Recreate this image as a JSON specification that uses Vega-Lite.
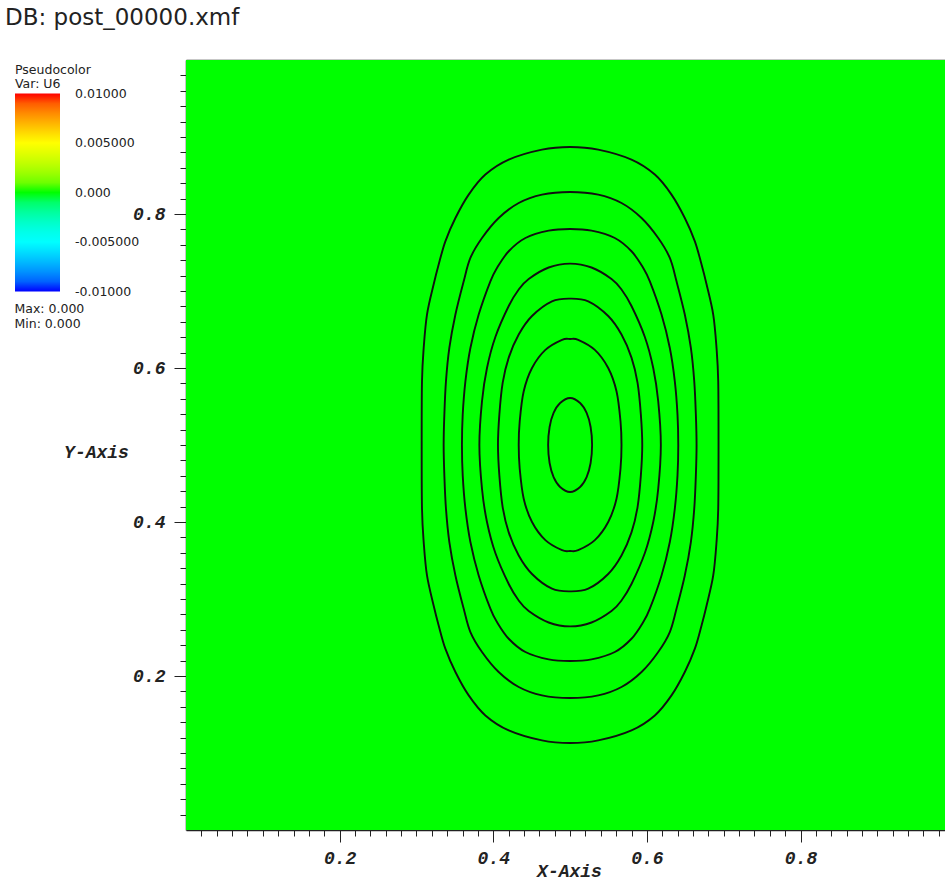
{
  "$schema": "https://vega.github.io/schema/vega-lite/v6.json",
  "width": 759,
  "height": 770,
  "autosize": {"type": "none"},
  "padding": {"left": 186, "top": 60, "right": 0, "bottom": 51},
  "background": "white",
  "title": {"text": "DB: post_00000.xmf", "anchor": "start", "frame": "group", "dx": -181, "offset": 30, "font": "DejaVu Sans", "fontSize": 23, "fontWeight": "normal", "color": "#222"},
  "config": {"view": {"stroke": null}, "axis": {"grid": false}},
  "datasets": {
    "contours": [
      {"c":1,"o":0,"x":0.5,"y":0.887},{"c":1,"o":1,"x":0.4634,"y":0.8836},{"c":1,"o":2,"x":0.4201,"y":0.8706},{"c":1,"o":3,"x":0.3897,"y":0.8512},{"c":1,"o":4,"x":0.368,"y":0.8252},{"c":1,"o":5,"x":0.3507,"y":0.7948},{"c":1,"o":6,"x":0.3376,"y":0.7645},{"c":1,"o":7,"x":0.3289,"y":0.7343},{"c":1,"o":8,"x":0.3224,"y":0.7087},{"c":1,"o":9,"x":0.3137,"y":0.6694},{"c":1,"o":10,"x":0.3094,"y":0.626},{"c":1,"o":11,"x":0.3072,"y":0.5827},{"c":1,"o":12,"x":0.3068,"y":0.5},{"c":1,"o":13,"x":0.3072,"y":0.4173},{"c":1,"o":14,"x":0.3094,"y":0.374},{"c":1,"o":15,"x":0.3137,"y":0.3306},{"c":1,"o":16,"x":0.3224,"y":0.2913},{"c":1,"o":17,"x":0.3289,"y":0.2657},{"c":1,"o":18,"x":0.3376,"y":0.2355},{"c":1,"o":19,"x":0.3507,"y":0.2052},{"c":1,"o":20,"x":0.368,"y":0.1748},{"c":1,"o":21,"x":0.3897,"y":0.1488},{"c":1,"o":22,"x":0.4201,"y":0.1294},{"c":1,"o":23,"x":0.4634,"y":0.1164},{"c":1,"o":24,"x":0.5,"y":0.113},{"c":1,"o":25,"x":0.5366,"y":0.1164},{"c":1,"o":26,"x":0.5799,"y":0.1294},{"c":1,"o":27,"x":0.6103,"y":0.1488},{"c":1,"o":28,"x":0.632,"y":0.1748},{"c":1,"o":29,"x":0.6493,"y":0.2052},{"c":1,"o":30,"x":0.6624,"y":0.2355},{"c":1,"o":31,"x":0.6711,"y":0.2657},{"c":1,"o":32,"x":0.6776,"y":0.2913},{"c":1,"o":33,"x":0.6863,"y":0.3306},{"c":1,"o":34,"x":0.6906,"y":0.374},{"c":1,"o":35,"x":0.6928,"y":0.4173},{"c":1,"o":36,"x":0.6932,"y":0.5},{"c":1,"o":37,"x":0.6928,"y":0.5827},{"c":1,"o":38,"x":0.6906,"y":0.626},{"c":1,"o":39,"x":0.6863,"y":0.6694},{"c":1,"o":40,"x":0.6776,"y":0.7087},{"c":1,"o":41,"x":0.6711,"y":0.7343},{"c":1,"o":42,"x":0.6624,"y":0.7645},{"c":1,"o":43,"x":0.6493,"y":0.7948},{"c":1,"o":44,"x":0.632,"y":0.8252},{"c":1,"o":45,"x":0.6103,"y":0.8512},{"c":1,"o":46,"x":0.5799,"y":0.8706},{"c":1,"o":47,"x":0.5366,"y":0.8836},
      {"c":2,"o":0,"x":0.5,"y":0.8286},{"c":2,"o":1,"x":0.4634,"y":0.8252},{"c":2,"o":2,"x":0.4331,"y":0.8143},{"c":2,"o":3,"x":0.407,"y":0.7948},{"c":2,"o":4,"x":0.3853,"y":0.7688},{"c":2,"o":5,"x":0.3702,"y":0.7429},{"c":2,"o":6,"x":0.3615,"y":0.7126},{"c":2,"o":7,"x":0.3507,"y":0.6694},{"c":2,"o":8,"x":0.3428,"y":0.626},{"c":2,"o":9,"x":0.3384,"y":0.5827},{"c":2,"o":10,"x":0.3363,"y":0.5395},{"c":2,"o":11,"x":0.3354,"y":0.5},{"c":2,"o":12,"x":0.3363,"y":0.4605},{"c":2,"o":13,"x":0.3384,"y":0.4173},{"c":2,"o":14,"x":0.3428,"y":0.374},{"c":2,"o":15,"x":0.3507,"y":0.3306},{"c":2,"o":16,"x":0.3615,"y":0.2874},{"c":2,"o":17,"x":0.3702,"y":0.2571},{"c":2,"o":18,"x":0.3853,"y":0.2312},{"c":2,"o":19,"x":0.407,"y":0.2052},{"c":2,"o":20,"x":0.4331,"y":0.1857},{"c":2,"o":21,"x":0.4634,"y":0.1748},{"c":2,"o":22,"x":0.5,"y":0.1714},{"c":2,"o":23,"x":0.5366,"y":0.1748},{"c":2,"o":24,"x":0.5669,"y":0.1857},{"c":2,"o":25,"x":0.593,"y":0.2052},{"c":2,"o":26,"x":0.6147,"y":0.2312},{"c":2,"o":27,"x":0.6298,"y":0.2571},{"c":2,"o":28,"x":0.6385,"y":0.2874},{"c":2,"o":29,"x":0.6493,"y":0.3306},{"c":2,"o":30,"x":0.6572,"y":0.374},{"c":2,"o":31,"x":0.6616,"y":0.4173},{"c":2,"o":32,"x":0.6637,"y":0.4605},{"c":2,"o":33,"x":0.6646,"y":0.5},{"c":2,"o":34,"x":0.6637,"y":0.5395},{"c":2,"o":35,"x":0.6616,"y":0.5827},{"c":2,"o":36,"x":0.6572,"y":0.626},{"c":2,"o":37,"x":0.6493,"y":0.6694},{"c":2,"o":38,"x":0.6385,"y":0.7126},{"c":2,"o":39,"x":0.6298,"y":0.7429},{"c":2,"o":40,"x":0.6147,"y":0.7688},{"c":2,"o":41,"x":0.593,"y":0.7948},{"c":2,"o":42,"x":0.5669,"y":0.8143},{"c":2,"o":43,"x":0.5366,"y":0.8252},
      {"c":3,"o":0,"x":0.5,"y":0.7805},{"c":3,"o":1,"x":0.4721,"y":0.7784},{"c":3,"o":2,"x":0.4418,"y":0.7688},{"c":3,"o":3,"x":0.4201,"y":0.7516},{"c":3,"o":4,"x":0.4048,"y":0.7299},{"c":3,"o":5,"x":0.3962,"y":0.7126},{"c":3,"o":6,"x":0.381,"y":0.6694},{"c":3,"o":7,"x":0.3702,"y":0.626},{"c":3,"o":8,"x":0.3637,"y":0.5827},{"c":3,"o":9,"x":0.3602,"y":0.5395},{"c":3,"o":10,"x":0.3592,"y":0.5},{"c":3,"o":11,"x":0.3602,"y":0.4605},{"c":3,"o":12,"x":0.3637,"y":0.4173},{"c":3,"o":13,"x":0.3702,"y":0.374},{"c":3,"o":14,"x":0.381,"y":0.3306},{"c":3,"o":15,"x":0.3962,"y":0.2874},{"c":3,"o":16,"x":0.4048,"y":0.2701},{"c":3,"o":17,"x":0.4201,"y":0.2484},{"c":3,"o":18,"x":0.4418,"y":0.2312},{"c":3,"o":19,"x":0.4721,"y":0.2216},{"c":3,"o":20,"x":0.5,"y":0.2195},{"c":3,"o":21,"x":0.5279,"y":0.2216},{"c":3,"o":22,"x":0.5582,"y":0.2312},{"c":3,"o":23,"x":0.5799,"y":0.2484},{"c":3,"o":24,"x":0.5952,"y":0.2701},{"c":3,"o":25,"x":0.6038,"y":0.2874},{"c":3,"o":26,"x":0.619,"y":0.3306},{"c":3,"o":27,"x":0.6298,"y":0.374},{"c":3,"o":28,"x":0.6363,"y":0.4173},{"c":3,"o":29,"x":0.6398,"y":0.4605},{"c":3,"o":30,"x":0.6408,"y":0.5},{"c":3,"o":31,"x":0.6398,"y":0.5395},{"c":3,"o":32,"x":0.6363,"y":0.5827},{"c":3,"o":33,"x":0.6298,"y":0.626},{"c":3,"o":34,"x":0.619,"y":0.6694},{"c":3,"o":35,"x":0.6038,"y":0.7126},{"c":3,"o":36,"x":0.5952,"y":0.7299},{"c":3,"o":37,"x":0.5799,"y":0.7516},{"c":3,"o":38,"x":0.5582,"y":0.7688},{"c":3,"o":39,"x":0.5279,"y":0.7784},
      {"c":4,"o":0,"x":0.5,"y":0.7356},{"c":4,"o":1,"x":0.4721,"y":0.7305},{"c":4,"o":2,"x":0.4461,"y":0.7156},{"c":4,"o":3,"x":0.4331,"y":0.7019},{"c":4,"o":4,"x":0.4201,"y":0.6805},{"c":4,"o":5,"x":0.4027,"y":0.6403},{"c":4,"o":6,"x":0.3918,"y":0.6},{"c":4,"o":7,"x":0.3853,"y":0.5568},{"c":4,"o":8,"x":0.3819,"y":0.5},{"c":4,"o":9,"x":0.3853,"y":0.4432},{"c":4,"o":10,"x":0.3918,"y":0.4},{"c":4,"o":11,"x":0.4027,"y":0.3597},{"c":4,"o":12,"x":0.4201,"y":0.3195},{"c":4,"o":13,"x":0.4331,"y":0.2981},{"c":4,"o":14,"x":0.4461,"y":0.2844},{"c":4,"o":15,"x":0.4721,"y":0.2695},{"c":4,"o":16,"x":0.5,"y":0.2644},{"c":4,"o":17,"x":0.5279,"y":0.2695},{"c":4,"o":18,"x":0.5539,"y":0.2844},{"c":4,"o":19,"x":0.5669,"y":0.2981},{"c":4,"o":20,"x":0.5799,"y":0.3195},{"c":4,"o":21,"x":0.5973,"y":0.3597},{"c":4,"o":22,"x":0.6082,"y":0.4},{"c":4,"o":23,"x":0.6147,"y":0.4432},{"c":4,"o":24,"x":0.6181,"y":0.5},{"c":4,"o":25,"x":0.6147,"y":0.5568},{"c":4,"o":26,"x":0.6082,"y":0.6},{"c":4,"o":27,"x":0.5973,"y":0.6403},{"c":4,"o":28,"x":0.5799,"y":0.6805},{"c":4,"o":29,"x":0.5669,"y":0.7019},{"c":4,"o":30,"x":0.5539,"y":0.7156},{"c":4,"o":31,"x":0.5279,"y":0.7305},
      {"c":5,"o":0,"x":0.5,"y":0.6901},{"c":5,"o":1,"x":0.4764,"y":0.6866},{"c":5,"o":2,"x":0.4504,"y":0.6675},{"c":5,"o":3,"x":0.4331,"y":0.6435},{"c":5,"o":4,"x":0.4201,"y":0.6135},{"c":5,"o":5,"x":0.4122,"y":0.5806},{"c":5,"o":6,"x":0.4079,"y":0.5395},{"c":5,"o":7,"x":0.4061,"y":0.5},{"c":5,"o":8,"x":0.4079,"y":0.4605},{"c":5,"o":9,"x":0.4122,"y":0.4194},{"c":5,"o":10,"x":0.4201,"y":0.3865},{"c":5,"o":11,"x":0.4331,"y":0.3565},{"c":5,"o":12,"x":0.4504,"y":0.3325},{"c":5,"o":13,"x":0.4764,"y":0.3134},{"c":5,"o":14,"x":0.5,"y":0.3099},{"c":5,"o":15,"x":0.5236,"y":0.3134},{"c":5,"o":16,"x":0.5496,"y":0.3325},{"c":5,"o":17,"x":0.5669,"y":0.3565},{"c":5,"o":18,"x":0.5799,"y":0.3865},{"c":5,"o":19,"x":0.5878,"y":0.4194},{"c":5,"o":20,"x":0.5921,"y":0.4605},{"c":5,"o":21,"x":0.5939,"y":0.5},{"c":5,"o":22,"x":0.5921,"y":0.5395},{"c":5,"o":23,"x":0.5878,"y":0.5806},{"c":5,"o":24,"x":0.5799,"y":0.6135},{"c":5,"o":25,"x":0.5669,"y":0.6435},{"c":5,"o":26,"x":0.5496,"y":0.6675},{"c":5,"o":27,"x":0.5236,"y":0.6866},
      {"c":6,"o":0,"x":0.5,"y":0.6377},{"c":6,"o":1,"x":0.4895,"y":0.6366},{"c":6,"o":2,"x":0.4678,"y":0.6235},{"c":6,"o":3,"x":0.4504,"y":0.6},{"c":6,"o":4,"x":0.4396,"y":0.5697},{"c":6,"o":5,"x":0.4344,"y":0.5308},{"c":6,"o":6,"x":0.4331,"y":0.5},{"c":6,"o":7,"x":0.4344,"y":0.4692},{"c":6,"o":8,"x":0.4396,"y":0.4303},{"c":6,"o":9,"x":0.4504,"y":0.4},{"c":6,"o":10,"x":0.4678,"y":0.3765},{"c":6,"o":11,"x":0.4895,"y":0.3634},{"c":6,"o":12,"x":0.5,"y":0.3623},{"c":6,"o":13,"x":0.5105,"y":0.3634},{"c":6,"o":14,"x":0.5322,"y":0.3765},{"c":6,"o":15,"x":0.5496,"y":0.4},{"c":6,"o":16,"x":0.5604,"y":0.4303},{"c":6,"o":17,"x":0.5656,"y":0.4692},{"c":6,"o":18,"x":0.5669,"y":0.5},{"c":6,"o":19,"x":0.5656,"y":0.5308},{"c":6,"o":20,"x":0.5604,"y":0.5697},{"c":6,"o":21,"x":0.5496,"y":0.6},{"c":6,"o":22,"x":0.5322,"y":0.6235},{"c":6,"o":23,"x":0.5105,"y":0.6366},
      {"c":7,"o":0,"x":0.5,"y":0.561},{"c":7,"o":1,"x":0.487,"y":0.5545},{"c":7,"o":2,"x":0.4785,"y":0.5416},{"c":7,"o":3,"x":0.4733,"y":0.5234},{"c":7,"o":4,"x":0.4714,"y":0.5},{"c":7,"o":5,"x":0.4733,"y":0.4766},{"c":7,"o":6,"x":0.4785,"y":0.4584},{"c":7,"o":7,"x":0.487,"y":0.4455},{"c":7,"o":8,"x":0.5,"y":0.439},{"c":7,"o":9,"x":0.513,"y":0.4455},{"c":7,"o":10,"x":0.5215,"y":0.4584},{"c":7,"o":11,"x":0.5267,"y":0.4766},{"c":7,"o":12,"x":0.5286,"y":0.5},{"c":7,"o":13,"x":0.5267,"y":0.5234},{"c":7,"o":14,"x":0.5215,"y":0.5416},{"c":7,"o":15,"x":0.513,"y":0.5545}
    ]
  },
  "layer": [
    {
      "data": {"values": [{"u": 0}]},
      "mark": {"type": "rect", "strokeWidth": 0},
      "encoding": {
        "color": {
          "field": "u", "type": "quantitative",
          "scale": {"domain": [-0.01, -0.005, 0, 0.005, 0.01], "range": ["#0000ff", "#00ffff", "#00ff00", "#ffff00", "#ff0000"]},
          "legend": {
            "orient": "none", "legendX": -171, "legendY": 4, "direction": "vertical",
            "title": ["Pseudocolor", "Var: U6"],
            "titleFont": "DejaVu Sans", "titleFontSize": 12.5, "titleFontWeight": "normal", "titleColor": "#222", "titleLineHeight": 14, "titlePadding": 3,
            "gradientLength": 198, "gradientThickness": 45, "gradientStrokeWidth": 0,
            "values": [0.01, 0.005, 0, -0.005, -0.01],
            "labelExpr": "datum.value > 0.007 ? '0.01000' : datum.value > 0.002 ? '0.005000' : datum.value > -0.002 ? '0.000' : datum.value > -0.007 ? '-0.005000' : '-0.01000'",
            "labelFont": "DejaVu Sans", "labelFontSize": 12.5, "labelColor": "#222", "labelOffset": 15, "labelOverlap": false,
            "padding": 0,
            "encode": {"labels": {"update": {"baseline": {"value": "middle"}}}}
          }
        }
      }
    },
    {
      "data": {"name": "contours"},
      "mark": {"type": "line", "color": "#111", "strokeWidth": 1.9, "interpolate": "cardinal-closed"},
      "encoding": {
        "x": {
          "field": "x", "type": "quantitative",
          "scale": {"domain": [0, 0.988], "nice": false, "zero": false},
          "axis": {
            "orient": "bottom",
            "values": [0.02,0.04,0.06,0.08,0.1,0.12,0.14,0.16,0.18,0.2,0.22,0.24,0.26,0.28,0.3,0.32,0.34,0.36,0.38,0.4,0.42,0.44,0.46,0.48,0.5,0.52,0.54,0.56,0.58,0.6,0.62,0.64,0.66,0.68,0.7,0.72,0.74,0.76,0.78,0.8,0.82,0.84,0.86,0.88,0.9,0.92,0.94,0.96,0.98],
            "format": ".1f",
            "labelExpr": "abs(datum.value*5 - round(datum.value*5)) < 0.001 ? datum.label : ''",
            "tickSize": {"condition": {"test": "abs(datum.value*5 - round(datum.value*5)) < 0.001", "value": 12}, "value": 6},
            "tickColor": "#222", "tickWidth": 1,
            "domainColor": "#222", "domainWidth": 1.5,
            "labelFont": "Liberation Mono", "labelFontSize": 18, "labelFontWeight": "bold", "labelFontStyle": "italic", "labelColor": "#222",
            "labelPadding": 7, "labelOverlap": false, "labelFlush": false,
            "title": "X-Axis", "titleFont": "Liberation Mono", "titleFontSize": 18, "titleFontWeight": "bold", "titleFontStyle": "italic", "titleColor": "#222",
            "titleX": 383, "titleY": 41, "titleAlign": "center", "titleBaseline": "middle"
          }
        },
        "y": {
          "field": "y", "type": "quantitative",
          "scale": {"domain": [0, 1], "nice": false, "zero": false},
          "axis": {
            "orient": "left",
            "values": [0.02,0.04,0.06,0.08,0.1,0.12,0.14,0.16,0.18,0.2,0.22,0.24,0.26,0.28,0.3,0.32,0.34,0.36,0.38,0.4,0.42,0.44,0.46,0.48,0.5,0.52,0.54,0.56,0.58,0.6,0.62,0.64,0.66,0.68,0.7,0.72,0.74,0.76,0.78,0.8,0.82,0.84,0.86,0.88,0.9,0.92,0.94,0.96,0.98],
            "format": ".1f",
            "labelExpr": "abs(datum.value*5 - round(datum.value*5)) < 0.001 ? datum.label : ''",
            "tickSize": {"condition": {"test": "abs(datum.value*5 - round(datum.value*5)) < 0.001", "value": 12}, "value": 6},
            "tickColor": "#222", "tickWidth": 1,
            "domainColor": "#222", "domainWidth": 1.5,
            "labelFont": "Liberation Mono", "labelFontSize": 18, "labelFontWeight": "bold", "labelFontStyle": "italic", "labelColor": "#222",
            "labelPadding": 9, "labelOverlap": false, "labelFlush": false,
            "title": "Y-Axis", "titleFont": "Liberation Mono", "titleFontSize": 18, "titleFontWeight": "bold", "titleFontStyle": "italic", "titleColor": "#222",
            "titleAngle": 0, "titleX": -90, "titleY": 392, "titleAlign": "center", "titleBaseline": "middle"
          }
        },
        "detail": {"field": "c", "type": "nominal"},
        "order": {"field": "o", "type": "quantitative"}
      }
    },
    {
      "data": {"values": [{"s": "Max: 0.000"}, {"s": "Min: 0.000"}]},
      "mark": {"type": "point", "opacity": 0},
      "encoding": {
        "x": {"datum": 0.5, "type": "quantitative", "axis": {"orient": "top", "domain": true, "domainColor": "#222", "domainWidth": 1.5, "ticks": false, "labels": false, "title": null, "grid": false}},
        "shape": {
          "field": "s", "type": "nominal",
          "scale": {"range": ["circle", "circle"]},
          "legend": {"orient": "none", "legendX": -184, "legendY": 242.5, "title": null, "symbolSize": 0, "symbolOpacity": 0, "symbolStrokeWidth": 0, "labelOffset": 0, "labelFont": "DejaVu Sans", "labelFontSize": 12.5, "labelColor": "#222", "rowPadding": 2, "padding": 0}
        }
      }
    }
  ],
  "resolve": {"axis": {"x": "independent"}}
}
